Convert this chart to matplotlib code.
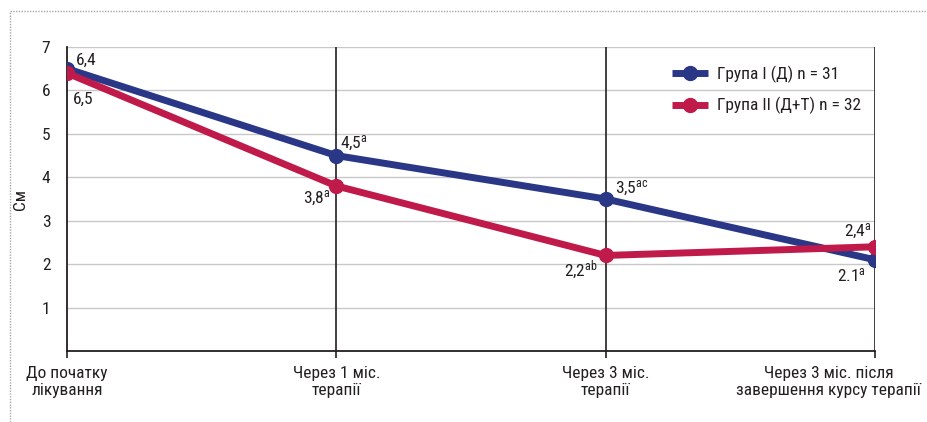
import matplotlib
matplotlib.use("Agg")
import matplotlib.pyplot as plt
from matplotlib import font_manager
from matplotlib.lines import Line2D
from matplotlib.transforms import ScaledTranslation

# ---- data ----
categories = ["До початку\nлікування", "Через 1 міс.\nтерапії",
              "Через 3 міс.\nтерапії", "Через 3 міс. після\nзавершення курсу терапії"]
group1_values = [6.5, 4.5, 3.5, 2.1]
group2_values = [6.4, 3.8, 2.2, 2.4]
group1_labels = ["6,5", "4,5", "3,5", "2.1"]
group2_labels = ["6,4", "3,8", "2,2", "2,4"]
group1_marks = ["", "a", "ac", "a"]
group2_marks = ["", "a", "ab", "a"]
series_names = ["Група I (Д) n = 31", "Група II (Д+Т) n = 32"]
y_ticks = [1, 2, 3, 4, 5, 6, 7]
y_label = "См"

# ---- font ----
available = {f.name for f in font_manager.fontManager.ttflist}
family = next((f for f in ["Liberation Sans Narrow", "Roboto Condensed",
                           "Liberation Sans", "DejaVu Sans"] if f in available))
plt.rcParams["font.family"] = [family, "DejaVu Sans"]
plt.rcParams["mathtext.fontset"] = "custom"
plt.rcParams["mathtext.rm"] = family
plt.rcParams["mathtext.it"] = family
plt.rcParams["mathtext.bf"] = family

FS = 12.5
BLUE = "#2a3786"
RED = "#c01a4b"
TEXT = "#231f20"

W, H = 928, 422
fig = plt.figure(figsize=(W / 100, H / 100), dpi=100)
ax = fig.add_axes([67 / W, 1 - 351 / H, (875 - 67) / W, (351 - 47) / H])

x = list(range(len(categories)))

# horizontal gridlines
for v in y_ticks:
    ax.axhline(v, color="#c8c8c8", lw=1.0, zorder=1)
# vertical category lines
for xi in x[1:]:
    ax.axvline(xi, color="#231f20", lw=1.2, zorder=1.5)

ax.plot(x, group1_values, color=BLUE, lw=5, marker="o", ms=10,
        solid_capstyle="butt", zorder=3, label=series_names[0])
ax.plot(x, group2_values, color=RED, lw=5, marker="o", ms=10,
        solid_capstyle="butt", zorder=4, label=series_names[1])

ax.set_xlim(0, 3)
ax.set_ylim(0, 7)
ax.set_yticks(y_ticks)
ax.set_xticks(x)
ax.set_xticklabels(categories, fontsize=FS, color=TEXT, linespacing=1.15)
ax.tick_params(axis="y", length=0, pad=12, labelsize=FS, labelcolor=TEXT)
ax.tick_params(axis="x", length=5, width=1.2, pad=6, color="#231f20")
for s in ["top", "right"]:
    ax.spines[s].set_visible(False)
for s in ["left", "bottom"]:
    ax.spines[s].set_color("#231f20")
    ax.spines[s].set_linewidth(1.3)
ax.set_ylabel(y_label, fontsize=FS, color=TEXT, labelpad=10)

# the last category label is right-aligned so it stays inside the figure
last = ax.get_xticklabels()[-1]
last.set_horizontalalignment("right")
last.set_multialignment("center")
last.set_transform(last.get_transform() + ScaledTranslation(46 / 100, 0, fig.dpi_scale_trans))


def label(txt, mark):
    if mark:
        return txt + r"$^{\mathrm{" + mark + "}}$"
    return txt


# value labels: pixel offsets (dx right, dy down) and horizontal alignment
g1_pos = [((6, 31), "left"), ((4, -12), "left"), ((9, -11), "left"), ((-9, 15), "right")]
g2_pos = [((9, -13), "left"), ((-5, 12), "right"), ((-8, 15), "right"), ((-3, -15), "right")]
for vals, labs, marks, pos in [(group1_values, group1_labels, group1_marks, g1_pos),
                               (group2_values, group2_labels, group2_marks, g2_pos)]:
    for xi, v, t, m, ((dx, dy), ha) in zip(x, vals, labs, marks, pos):
        ax.annotate(label(t, m), (xi, v), xytext=(dx * 0.72, -dy * 0.72),
                    textcoords="offset points", ha=ha, va="center",
                    fontsize=FS, color=TEXT, zorder=5)

leg = ax.legend(loc="upper left", bbox_to_anchor=(672 / W, 1 - 66 / H),
                bbox_transform=fig.transFigure, frameon=False, fontsize=FS,
                handlelength=2.1, handletextpad=0.5, labelspacing=0.8,
                borderpad=0, borderaxespad=0)
for t in leg.get_texts():
    t.set_color(TEXT)

# dotted frame on top and left
fig.add_artist(Line2D([10 / W, 1.0], [1 - 11 / H, 1 - 11 / H], transform=fig.transFigure,
                      color="#a8a8a8", lw=1.0, ls=(0, (1, 1))))
fig.add_artist(Line2D([10 / W, 10 / W], [0, 1 - 11 / H], transform=fig.transFigure,
                      color="#a8a8a8", lw=1.0, ls=(0, (1, 1))))

fig.savefig("out.png", dpi=100)
